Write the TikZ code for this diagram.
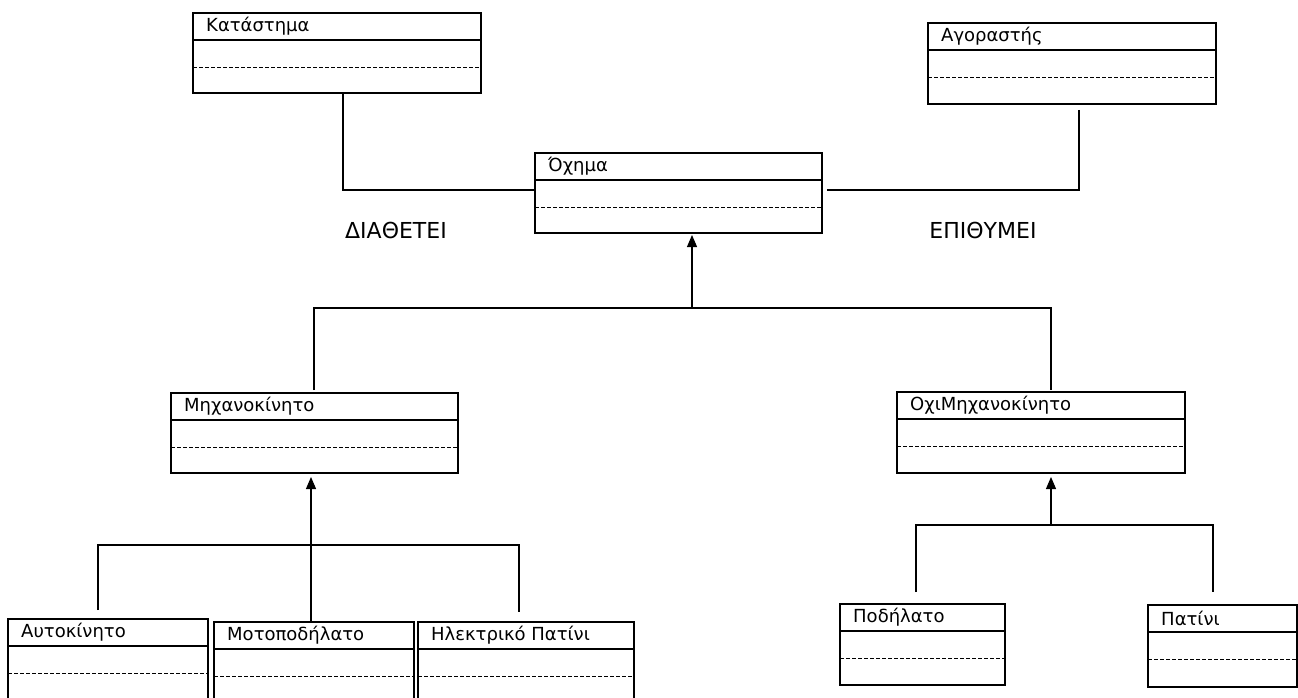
\documentclass[tikz,border=0pt]{standalone}
\usepackage{fontspec}
\setmainfont{DejaVu Sans}
\usetikzlibrary{arrows.meta}
\newcommand\umlclass[6]{%
  \node[classbox, minimum width=#4-#2, minimum height=#5-#3, anchor=north west] (#1) at (#2,#3) {};
  \draw[classline] ([yshift=-27pt]#1.north west) -- ([yshift=-27pt]#1.north east);
  \draw[classdash] ([yshift=-54pt]#1.north west) -- ([yshift=-54pt]#1.north east);
  \node[classtitle] (#1-title) at ([xshift=13pt,yshift=-13.5pt]#1.north west) {#6};
}
\begin{document}
\begin{tikzpicture}[x=1pt,y=-1pt,
  classbox/.style={draw, line width=1.1pt, inner sep=0pt, outer sep=0pt},
  classline/.style={line width=1.1pt},
  classdash/.style={line width=0.9pt, dash pattern=on 4pt off 2pt},
  classtitle/.style={anchor=west, font=\fontsize{18}{20}\selectfont, inner sep=0pt},
  conn/.style={line width=1.1pt},
  inherit/.style={line width=1.1pt, -{Triangle[width=10pt,length=12pt]}},
  rel/.style={font=\fontsize{22}{24}\selectfont, inner sep=0pt}]
\useasboundingbox (0,0) rectangle (1298,698);
\clip (0,0) rectangle (1298,698);
\fill[white] (0,0) rectangle (1298,698);

\umlclass{kat}{193}{13}{481}{93}{Κατάστημα}
\umlclass{agor}{928}{23}{1216}{104}{Αγοραστής}
\umlclass{oxima}{535}{153}{822}{233}{Όχημα}
\umlclass{mix}{171}{393}{458}{473}{Μηχανοκίνητο}
\umlclass{oximix}{897}{392}{1185}{473}{ΟχιΜηχανοκίνητο}
\umlclass{auto}{8}{619}{208}{702}{Αυτοκίνητο}
\umlclass{moto}{214}{622}{414}{702}{Μοτοποδήλατο}
\umlclass{elpat}{418}{622}{634}{702}{Ηλεκτρικό Πατίνι}
\umlclass{pod}{840}{604}{1005}{685}{Ποδήλατο}
\umlclass{pat}{1148}{605}{1297}{687}{Πατίνι}

% associations
\coordinate (katend) at (343,93);
\coordinate (agorend) at (1079,110);
\coordinate (oxl) at (535,190);
\coordinate (oxr) at (827,190);
\draw[conn] (katend) |- (oxl);
\draw[conn] (agorend) |- (oxr);
\node[rel] (diathetei) at (396,230) {ΔΙΑΘΕΤΕΙ};
\node[rel] (epithymei) at (983,230) {ΕΠΙΘΥΜΕΙ};

% inheritance 1
\coordinate (j1) at (692,308);
\coordinate (t1) at (692,235);
\coordinate (m1) at (314,390);
\coordinate (o1) at (1051,390);
\draw[inherit] (j1) -- (t1);
\draw[conn] (m1) |- (j1) -| (o1);

% inheritance 2
\coordinate (b2) at (311,622);
\coordinate (t2) at (311,477);
\coordinate (a2) at (98,610);
\coordinate (e2) at (519,612);
\coordinate (j2) at (311,545);
\draw[inherit] (b2) -- (t2);
\draw[conn] (a2) |- (j2) -| (e2);

% inheritance 3
\coordinate (j3) at (1051,525);
\coordinate (t3) at (1051,477);
\coordinate (p3) at (916,592);
\coordinate (q3) at (1213,592);
\draw[inherit] (j3) -- (t3);
\draw[conn] (p3) |- (j3) -| (q3);
\end{tikzpicture}
\end{document}
